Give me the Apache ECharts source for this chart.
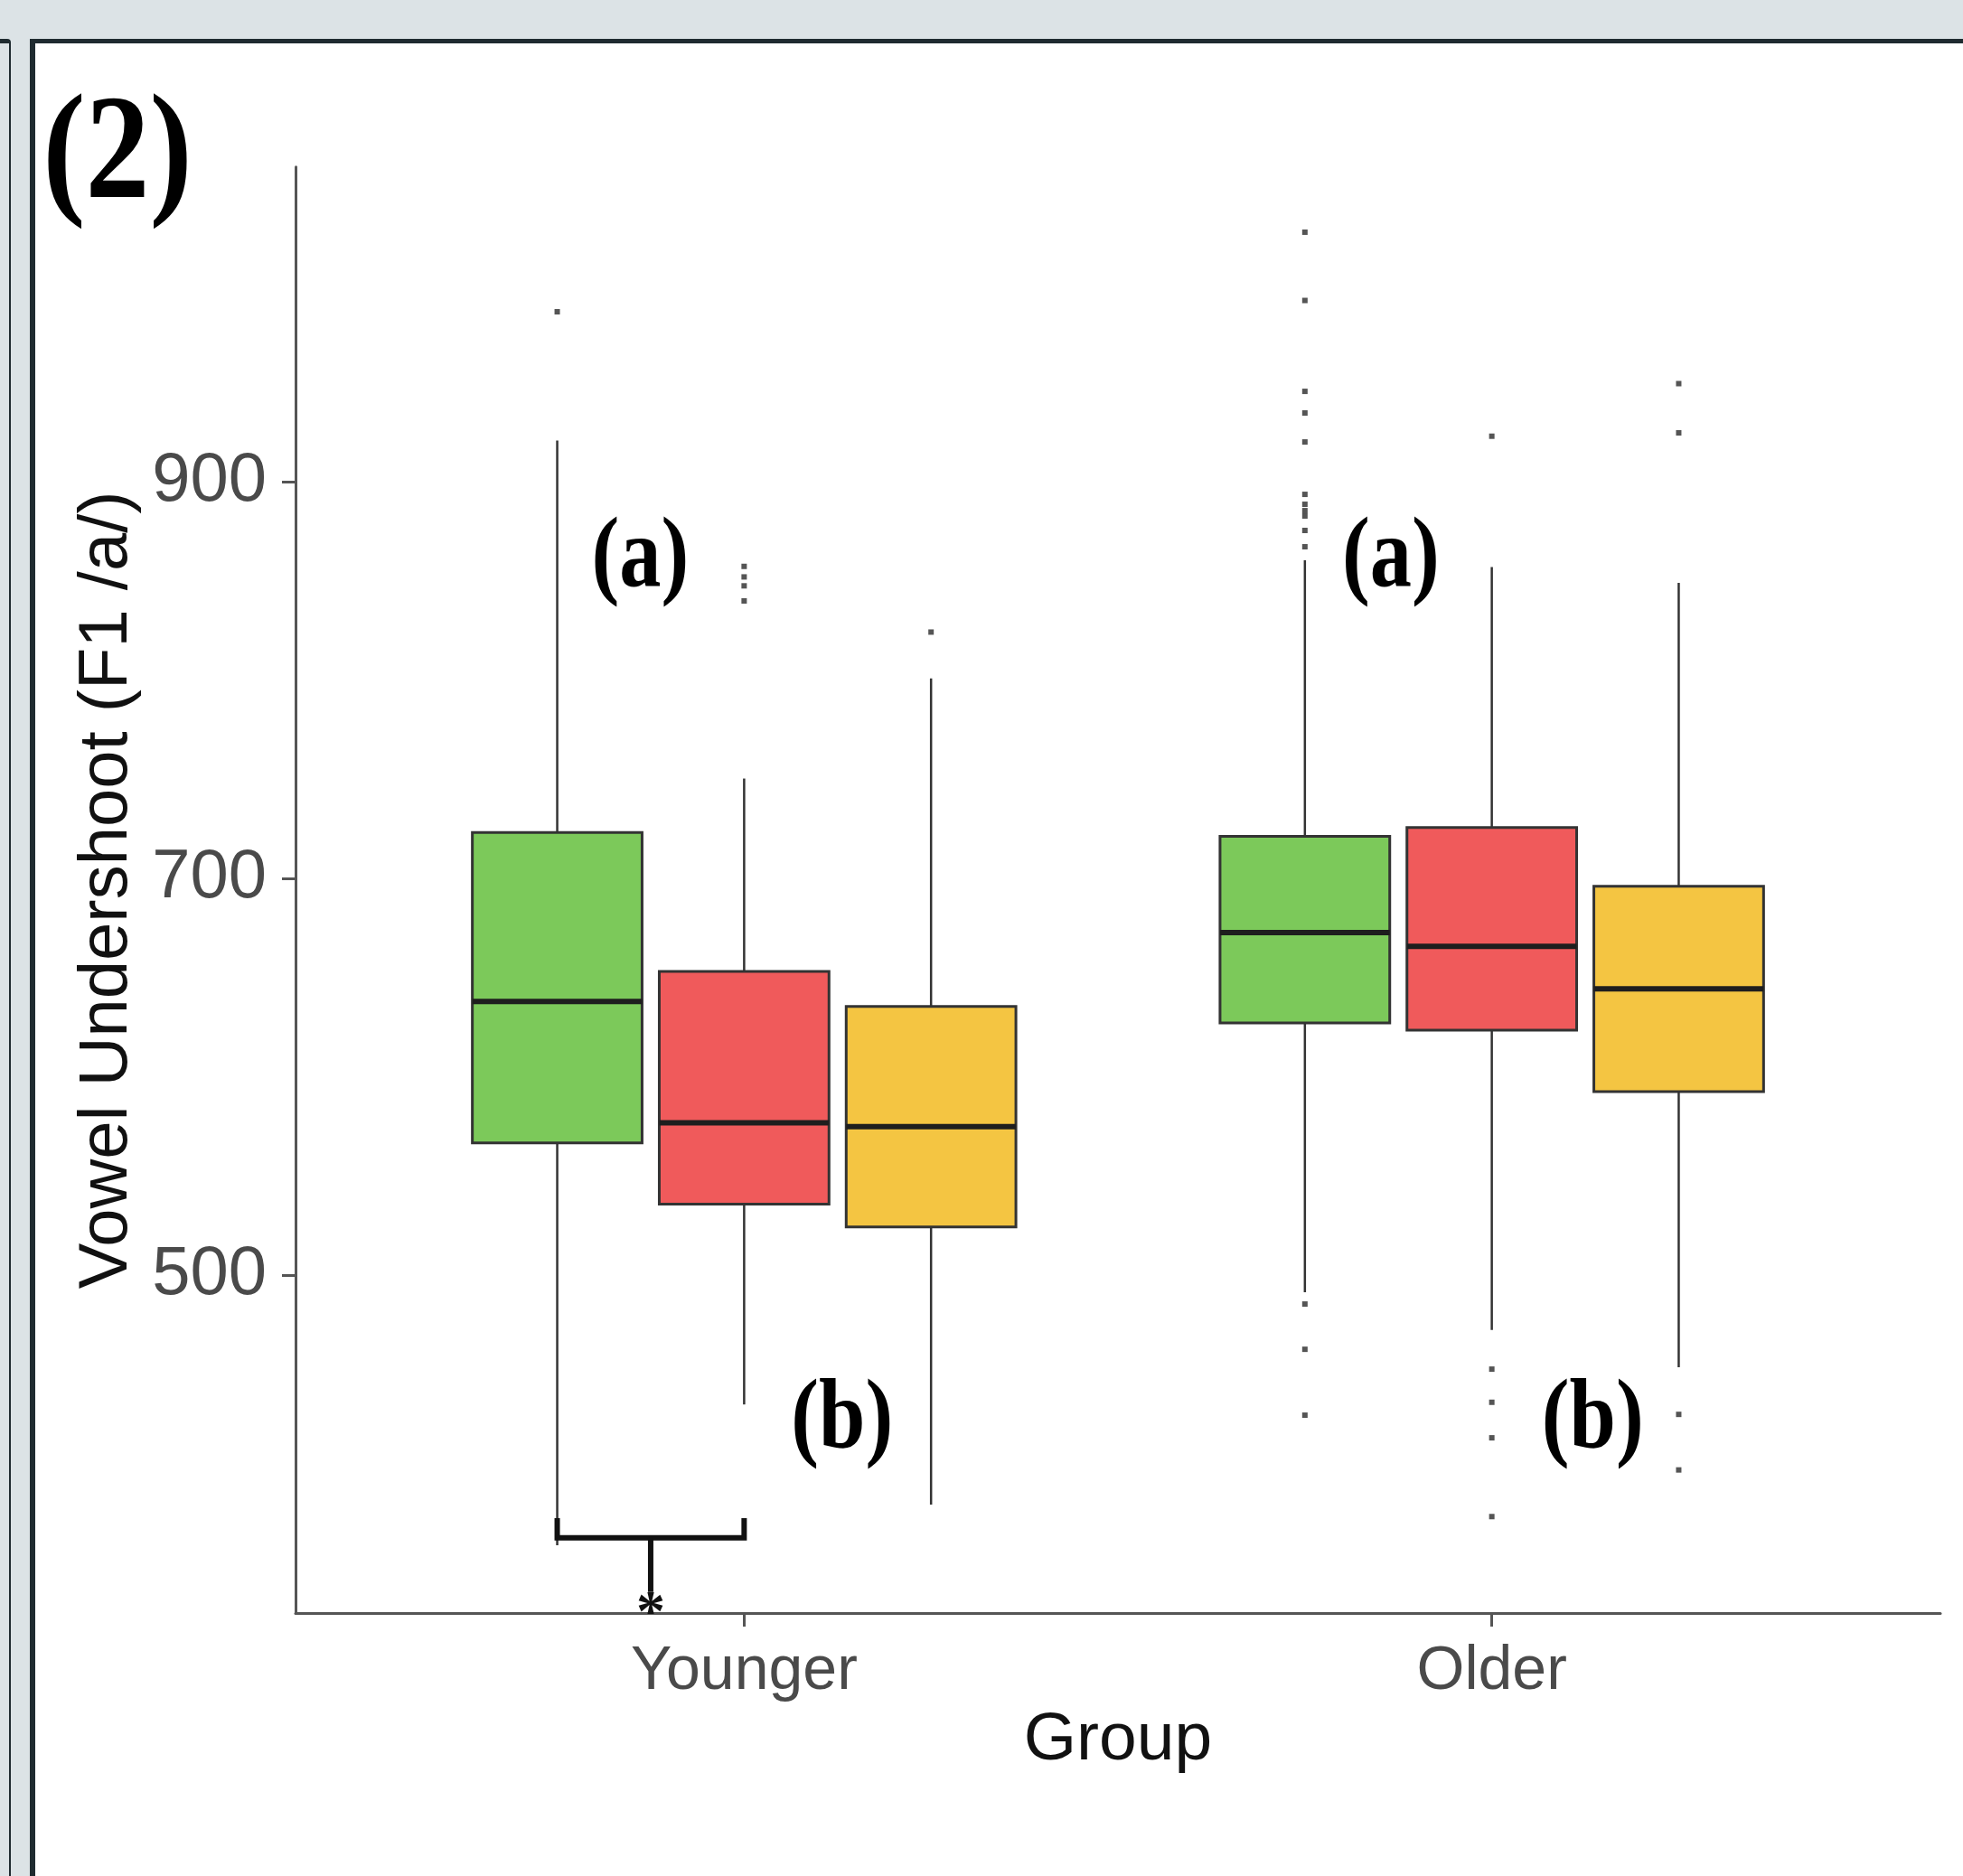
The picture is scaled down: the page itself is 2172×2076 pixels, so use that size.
<!DOCTYPE html>
<html><head><meta charset="utf-8">
<script src="https://cdn.jsdelivr.net/npm/echarts@6/dist/echarts.min.js"></script>
<style>
html,body{margin:0;padding:0;}
body{width:2172px;height:2076px;background:#dce3e6;position:relative;overflow:hidden;}
#leftPanel{position:absolute;left:0;top:43px;width:10px;bottom:0;border-top:5px solid #1f2b30;border-right:2px solid #1f2b30;border-top-right-radius:4px;background:#dce3e6;}
#mainPanel{position:absolute;left:33px;top:43px;right:0;bottom:0;border-left:6px solid #1f2b30;border-top:5px solid #1f2b30;background:#fff;}
#chart{position:absolute;left:0;top:0;width:2172px;height:2076px;}
</style></head>
<body>
<div id="leftPanel"></div><div id="mainPanel"></div><div id="chart"></div>
<script>
// ---- data ----
const groups = ['Younger', 'Older'];
const yTicks = [500, 700, 900];
const condColors = ['#7cc95a', '#f05a5b', '#f4c542'];
// [lower whisker, Q1, median, Q3, upper whisker] for Younger, Older
const greenStats  = [[364, 566.8, 638.1, 723.2, 920.7], [491.5, 627.3, 672.8, 721.3, 860.4]];
const redStats    = [[435, 535.9, 576.9, 653.2, 750.4], [472.5, 623.6, 665.8, 725.7, 857]];
const yellowStats = [[384.5, 524.5, 575, 635.5, 800.8], [453.7, 592.6, 644.4, 696.1, 849]];
// outliers for Younger, Older
const greenOutliers  = [[985.6], [1025.7, 991.3, 945.5, 934.6, 920, 893.6, 888.6, 885.4, 882.7, 875.4, 867.2, 485.6, 462.8, 429.6]];
const redOutliers    = [[857.3, 852, 847.5, 839.9], [922.9, 452.8, 436.1, 418.2, 378.5]];
const yellowOutliers = [[824.2], [949.4, 924.6, 430, 402]];
// significance bracket between Younger green and Younger red
const bracketGroup = 1;
const bracketConds = [0, 1];
const bracketLevels = [377.7, 367.8, 340.5, 329]; // tick top, bar, stem end, star
// letter annotations
const letterLabels = ['(a)', '(a)', '(b)', '(b)'];
const letterX = [0.861, 1.865, 1.131, 2.135];
const letterY = [860.4, 860.4, 426, 426];

// ---- layout helpers ----
const DODGE = 0.25, BOX_W = 0.227;
const allStats = [greenStats, redStats, yellowStats];
const allOutliers = [greenOutliers, redOutliers, yellowOutliers];
const condPos = (g, k) => g + (k - 1) * DODGE;

function boxRenderer(k, color) {
  return function (params, api) {
    const xc = condPos(api.value(0), k);
    const lo = api.coord([xc, api.value(1)]);
    const q1 = api.coord([xc, api.value(2)]);
    const md = api.coord([xc, api.value(3)]);
    const q3 = api.coord([xc, api.value(4)]);
    const hi = api.coord([xc, api.value(5)]);
    const hw = api.size([BOX_W, 0])[0] / 2;
    const cx = md[0];
    return { type: 'group', children: [
      { type: 'line', shape: { x1: cx, y1: hi[1], x2: cx, y2: q3[1] }, style: { stroke: '#333', lineWidth: 2.5 } },
      { type: 'line', shape: { x1: cx, y1: q1[1], x2: cx, y2: lo[1] }, style: { stroke: '#333', lineWidth: 2.5 } },
      { type: 'rect', shape: { x: cx - hw, y: q3[1], width: hw * 2, height: q1[1] - q3[1] }, style: { fill: color, stroke: '#333', lineWidth: 3 } },
      { type: 'line', shape: { x1: cx - hw, y1: md[1], x2: cx + hw, y2: md[1] }, style: { stroke: '#1e1e1e', lineWidth: 6 } }
    ]};
  };
}

const series = [];
allStats.forEach((stats, k) => {
  series.push({
    type: 'custom', name: 'box' + k,
    data: stats.map((s, g) => [g + 1].concat(s)),
    encode: { x: 0, y: [1, 2, 3, 4, 5] },
    renderItem: boxRenderer(k, condColors[k]),
    z: 2
  });
});
allOutliers.forEach((outs, k) => {
  const pts = [];
  outs.forEach((vals, g) => vals.forEach(v => pts.push([condPos(g + 1, k), v])));
  series.push({
    type: 'scatter', data: pts, symbol: 'rect', symbolSize: 6,
    itemStyle: { color: '#2b2b2b' }, z: 3
  });
});
series.push({
  type: 'custom',
  data: [[condPos(bracketGroup, bracketConds[0]), condPos(bracketGroup, bracketConds[1])].concat(bracketLevels)],
  encode: { x: [0, 1], y: [2, 3, 4, 5] },
  renderItem: function (params, api) {
    const x1 = api.value(0), x2 = api.value(1), xm = (x1 + x2) / 2;
    const a = api.coord([x1, api.value(2)]), b = api.coord([x1, api.value(3)]);
    const c = api.coord([x2, api.value(3)]), d = api.coord([x2, api.value(2)]);
    const m = api.coord([xm, api.value(3)]), e = api.coord([xm, api.value(4)]);
    const s = api.coord([xm, api.value(5)]);
    return { type: 'group', children: [
      { type: 'polyline', shape: { points: [a, b, c, d] }, style: { stroke: '#111', lineWidth: 6, fill: null } },
      { type: 'line', shape: { x1: m[0], y1: m[1], x2: e[0], y2: e[1] }, style: { stroke: '#111', lineWidth: 6 } },
      { type: 'text', x: s[0], y: s[1], style: { text: '*', fontSize: 64, fontWeight: 'bold', fontFamily: 'Liberation Serif', fill: '#111', align: 'center', verticalAlign: 'middle' } }
    ]};
  },
  z: 4
});
series.push({
  type: 'custom',
  data: letterX.map((x, i) => [x, letterY[i], i]),
  encode: { x: 0, y: 1 },
  renderItem: function (params, api) {
    const p = api.coord([api.value(0), api.value(1)]);
    return { type: 'text', x: p[0], y: p[1], scaleX: 0.84,
      style: { text: letterLabels[api.value(2)], fontSize: 110, fontWeight: 'bold', fontFamily: 'Liberation Serif', fill: '#000', align: 'center', verticalAlign: 'middle' } };
  },
  z: 5
});

const axisLineStyle = { color: '#555', width: 3 };
const chart = echarts.init(document.getElementById('chart'), null, { renderer: 'canvas' });
chart.setOption({
  animation: false,
  textStyle: { fontFamily: 'Liberation Sans' },
  grid: { left: 327, right: 25, top: 184.7, bottom: 291, containLabel: false },
  xAxis: {
    type: 'value', min: 0.4, max: 2.6,
    splitLine: { show: false },
    axisLine: { show: true, lineStyle: axisLineStyle },
    axisTick: { show: true, length: 15, customValues: [1, 2], lineStyle: axisLineStyle },
    axisLabel: { customValues: [1, 2], formatter: v => groups[Math.round(v) - 1], fontSize: 68, color: '#4a4a4a', margin: 31, fontFamily: 'Liberation Sans' },
    name: 'Group', nameLocation: 'middle', nameGap: 101,
    nameTextStyle: { fontSize: 75, color: '#111', fontFamily: 'Liberation Sans' }
  },
  yAxis: {
    type: 'value', min: 329.9, max: 1058.6,
    splitLine: { show: false },
    axisLine: { show: true, lineStyle: axisLineStyle },
    axisTick: { show: true, length: 15, customValues: yTicks, lineStyle: axisLineStyle },
    axisLabel: { customValues: yTicks, fontSize: 76, color: '#4a4a4a', margin: 32, fontFamily: 'Liberation Sans' },
    name: 'Vowel Undershoot (F1 /a/)', nameLocation: 'middle', nameGap: 168,
    nameTextStyle: { fontSize: 76, color: '#111', fontFamily: 'Liberation Sans' }
  },
  graphic: [{
    type: 'text', x: 130, y: 175, scaleX: 0.86,
    style: { text: '(2)', fontSize: 165, fontWeight: 'bold', fontFamily: 'Liberation Serif', fill: '#000', align: 'center', verticalAlign: 'middle' }
  }],
  series: series
});
</script>
</body></html>
